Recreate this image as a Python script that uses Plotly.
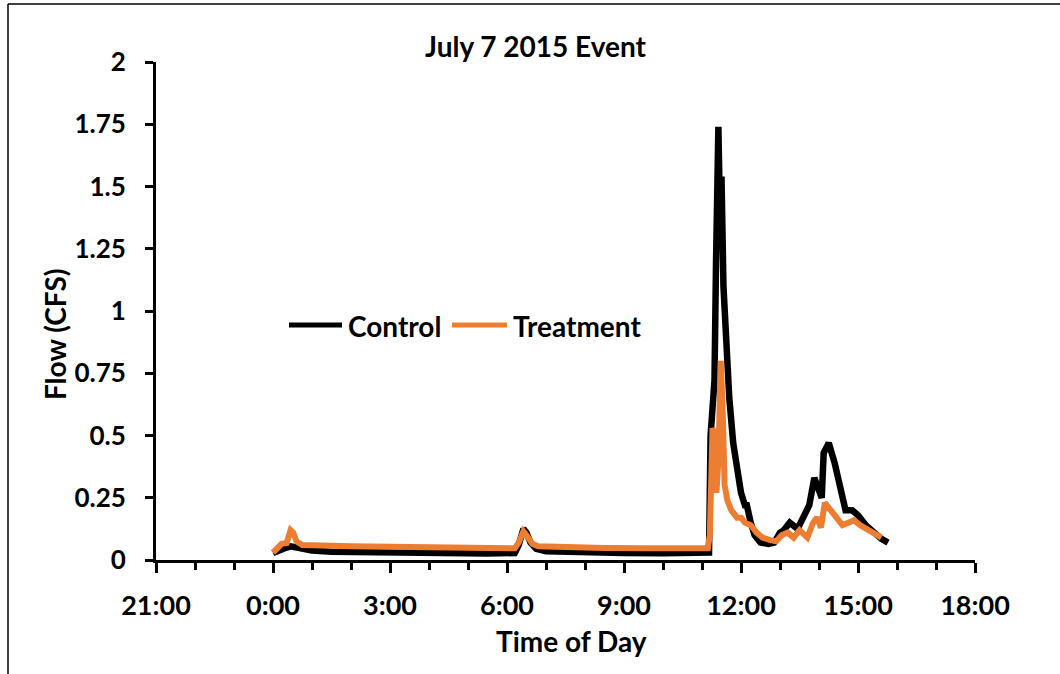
import plotly.graph_objects as go

# Time of day in hours (0 = 0:00), flow in CFS
control_time = [0.00, 0.15, 0.35, 0.45, 0.70, 1.00, 1.50, 2.50, 3.50, 4.50, 5.50, 6.20, 6.30, 6.42, 6.50,
                6.60, 6.75, 7.00, 8.00, 9.00, 10.00, 11.00, 11.18, 11.22, 11.27, 11.32, 11.36, 11.42, 11.46,
                11.50, 11.55, 11.62, 11.70, 11.80, 11.90, 12.00, 12.10, 12.15, 12.25, 12.35, 12.50, 12.70,
                12.85, 13.00, 13.10, 13.25, 13.45, 13.65, 13.75, 13.88, 14.00, 14.07, 14.12, 14.25, 14.40,
                14.55, 14.68, 14.85, 15.00, 15.20, 15.40, 15.60, 15.77]
control_flow = [0.028, 0.040, 0.050, 0.055, 0.045, 0.038, 0.033, 0.030, 0.028, 0.027, 0.026, 0.028, 0.060, 0.125, 0.110,
                0.070, 0.045, 0.035, 0.030, 0.028, 0.027, 0.027, 0.030, 0.500, 0.680, 0.720, 1.200, 1.740, 1.400,
                1.540, 1.100, 0.850, 0.650, 0.470, 0.360, 0.270, 0.220, 0.220, 0.150, 0.100, 0.070, 0.065,
                0.070, 0.110, 0.120, 0.150, 0.125, 0.180, 0.220, 0.330, 0.270, 0.250, 0.430, 0.470, 0.390,
                0.280, 0.200, 0.200, 0.180, 0.140, 0.110, 0.085, 0.070]

treatment_time = [0.00, 0.12, 0.22, 0.35, 0.45, 0.52, 0.60, 0.75, 1.00, 2.00, 3.00, 4.00, 5.00, 6.20, 6.30,
                  6.42, 6.52, 6.65, 6.80, 7.50, 8.50, 9.50, 10.50, 11.15, 11.20, 11.27, 11.32, 11.37, 11.42,
                  11.48, 11.53, 11.58, 11.65, 11.75, 11.90, 12.00, 12.10, 12.25, 12.40, 12.55, 12.75, 12.90,
                  13.05, 13.20, 13.35, 13.50, 13.70, 13.85, 13.95, 14.05, 14.15, 14.30, 14.45, 14.60, 14.75,
                  14.90, 15.05, 15.30, 15.50, 15.60]
treatment_flow = [0.030, 0.045, 0.065, 0.068, 0.120, 0.110, 0.075, 0.060, 0.058, 0.055, 0.053, 0.050, 0.048, 0.047, 0.070,
                  0.115, 0.095, 0.065, 0.055, 0.050, 0.048, 0.047, 0.047, 0.047, 0.100, 0.530, 0.500, 0.270, 0.400,
                  0.800, 0.600, 0.300, 0.240, 0.200, 0.170, 0.170, 0.150, 0.140, 0.110, 0.090, 0.080, 0.075,
                  0.100, 0.110, 0.090, 0.120, 0.090, 0.150, 0.170, 0.130, 0.230, 0.200, 0.170, 0.140, 0.150,
                  0.160, 0.140, 0.120, 0.100, 0.090]

series_names = ["Control", "Treatment"]
series_colors = ["#000000", "#ED7D31"]

x_tick_vals = [-3, 0, 3, 6, 9, 12, 15, 18]
x_tick_text = ["21:00", "0:00", "3:00", "6:00", "9:00", "12:00", "15:00", "18:00"]

FONT = "Lato"

# plot area in screen pixels (used for placing paper-referenced decorations)
PX0, PX1, PY0, PY1 = 156, 975, 62, 560


def px(x):
    return (x - PX0) / (PX1 - PX0)


def py(y):
    return (PY1 - y) / (PY1 - PY0)


fig = go.Figure()
fig.add_trace(go.Scatter(x=control_time, y=control_flow, mode="lines", name=series_names[0],
                         line=dict(color=series_colors[0], width=6.5), showlegend=False))
fig.add_trace(go.Scatter(x=treatment_time, y=treatment_flow, mode="lines", name=series_names[1],
                         line=dict(color=series_colors[1], width=6), showlegend=False))

fig.update_layout(
    width=1060, height=674,
    margin=dict(l=PX0, r=1060 - PX1, t=PY0, b=674 - PY1),
    paper_bgcolor="white", plot_bgcolor="white",
    font=dict(family=FONT, size=27, color="#000000", weight="bold"),
    showlegend=False,
    xaxis=dict(range=[-3, 18], tickvals=x_tick_vals, ticktext=x_tick_text,
               showgrid=False, zeroline=False, showline=True, linecolor="#000000", linewidth=3,
               ticks="outside", ticklen=10, tickwidth=3, tickcolor="#000000",
               ticklabelstandoff=10,
               tickfont=dict(size=27, family=FONT, weight="bold"),
               minor=dict(dtick=1, ticks="outside", ticklen=7, tickwidth=3, tickcolor="#000000", showgrid=False)),
    yaxis=dict(range=[0, 2], dtick=0.25, tick0=0,
               showgrid=False, zeroline=False, showline=True, linecolor="#000000", linewidth=3,
               ticks="outside", ticklen=8, tickwidth=3, tickcolor="#000000",
               ticklabelstandoff=14,
               tickfont=dict(size=26, family=FONT, weight="bold")),
    annotations=[
        dict(text="July 7 2015 Event", xref="paper", yref="paper", x=px(536), y=py(46),
             showarrow=False, xanchor="center", yanchor="middle", font=dict(size=28, family=FONT, weight="bold")),
        dict(text="Flow (CFS)", xref="paper", yref="paper", x=px(55), y=py(335),
             showarrow=False, textangle=-90, xanchor="center", yanchor="middle",
             font=dict(size=28, family=FONT, weight="bold")),
        dict(text="Time of Day", xref="paper", yref="paper", x=px(571), y=py(641),
             showarrow=False, xanchor="center", yanchor="middle", font=dict(size=28, family=FONT, weight="bold")),
        dict(text=series_names[0], xref="paper", yref="paper", x=px(346), y=py(326),
             showarrow=False, xanchor="left", yanchor="middle", font=dict(size=28, family=FONT, weight="bold")),
        dict(text=series_names[1], xref="paper", yref="paper", x=px(511), y=py(326),
             showarrow=False, xanchor="left", yanchor="middle", font=dict(size=28, family=FONT, weight="bold")),
    ],
    shapes=[
        # legend swatches
        dict(type="line", xref="paper", yref="paper", x0=px(289), x1=px(342), y0=py(325), y1=py(325),
             line=dict(color=series_colors[0], width=5)),
        dict(type="line", xref="paper", yref="paper", x0=px(452), x1=px(507), y0=py(325), y1=py(325),
             line=dict(color=series_colors[1], width=5)),
        # chart border (top and left edges visible)
        dict(type="line", xref="paper", yref="paper", x0=px(8), x1=px(1070),
             y0=py(4), y1=py(4), line=dict(color="#000000", width=1.5)),
        dict(type="line", xref="paper", yref="paper", x0=px(8), x1=px(8),
             y0=py(4), y1=py(690), line=dict(color="#000000", width=1.5)),
    ],
)

fig.write_html("out.html", config={"displayModeBar": False},
               post_script="document.body.style.margin='0';document.body.style.overflow='hidden';")
